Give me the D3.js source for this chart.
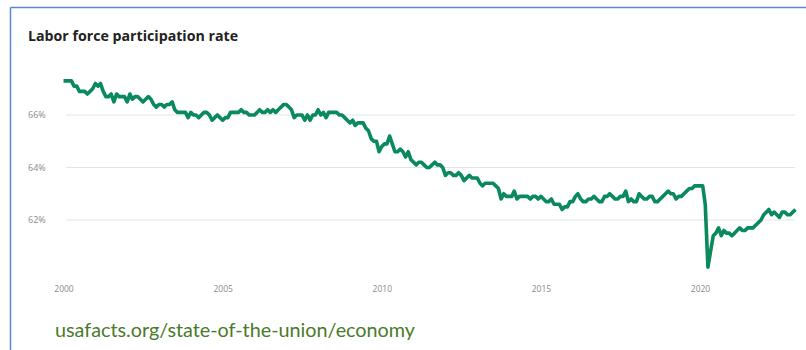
<!DOCTYPE html>
<html>
<head>
<meta charset="utf-8">
<script src="https://cdn.jsdelivr.net/npm/d3@7"></script>
<style>
  html, body { margin: 0; padding: 0; background: #fff; }
  svg { display: block; }
</style>
</head>
<body>
<svg id="chart" width="806" height="350"></svg>
<script>
// Labor force participation rate, monthly, seasonally adjusted (%), Jan 2000 – Jan 2023
const startYear = 2000;
const rates2000 = [67.3, 67.3, 67.3, 67.3, 67.1, 67.1, 66.9, 66.9, 66.9, 66.8, 66.9, 67.0];
const rates2001 = [67.2, 67.1, 67.2, 66.9, 66.7, 66.7, 66.8, 66.5, 66.8, 66.7, 66.7, 66.7];
const rates2002 = [66.5, 66.8, 66.6, 66.7, 66.7, 66.6, 66.5, 66.6, 66.7, 66.6, 66.4, 66.3];
const rates2003 = [66.4, 66.4, 66.3, 66.4, 66.4, 66.5, 66.2, 66.1, 66.1, 66.1, 66.1, 65.9];
const rates2004 = [66.1, 66.0, 66.0, 65.9, 66.0, 66.1, 66.1, 66.0, 65.8, 65.9, 66.0, 65.9];
const rates2005 = [65.8, 65.9, 65.9, 66.1, 66.1, 66.1, 66.1, 66.2, 66.1, 66.1, 66.0, 66.0];
const rates2006 = [66.0, 66.1, 66.2, 66.1, 66.1, 66.2, 66.1, 66.2, 66.1, 66.2, 66.3, 66.4];
const rates2007 = [66.4, 66.3, 66.2, 65.9, 66.0, 66.0, 66.0, 65.8, 66.0, 65.8, 66.0, 66.0];
const rates2008 = [66.2, 66.0, 66.1, 65.9, 66.1, 66.1, 66.1, 66.1, 66.0, 66.0, 65.9, 65.8];
const rates2009 = [65.7, 65.8, 65.6, 65.7, 65.7, 65.7, 65.5, 65.4, 65.1, 65.0, 65.0, 64.6];
const rates2010 = [64.8, 64.9, 64.9, 65.2, 64.9, 64.6, 64.6, 64.7, 64.6, 64.4, 64.6, 64.3];
const rates2011 = [64.2, 64.1, 64.2, 64.2, 64.1, 64.0, 64.0, 64.1, 64.2, 64.1, 64.1, 64.0];
const rates2012 = [63.7, 63.8, 63.8, 63.7, 63.7, 63.8, 63.7, 63.5, 63.6, 63.7, 63.6, 63.6];
const rates2013 = [63.6, 63.4, 63.3, 63.4, 63.4, 63.4, 63.4, 63.3, 63.2, 62.8, 63.0, 62.9];
const rates2014 = [62.9, 62.9, 63.1, 62.8, 62.9, 62.9, 62.9, 62.9, 62.8, 62.9, 62.9, 62.8];
const rates2015 = [62.9, 62.8, 62.7, 62.7, 62.8, 62.6, 62.6, 62.6, 62.4, 62.5, 62.5, 62.7];
const rates2016 = [62.7, 62.9, 63.0, 62.8, 62.7, 62.7, 62.8, 62.8, 62.9, 62.8, 62.7, 62.7];
const rates2017 = [62.9, 62.9, 63.0, 62.9, 62.8, 62.8, 62.9, 62.9, 63.1, 62.7, 62.8, 62.7];
const rates2018 = [62.7, 63.0, 62.9, 62.8, 62.8, 62.9, 62.9, 62.7, 62.7, 62.8, 62.9, 63.0];
const rates2019 = [63.1, 63.0, 63.0, 62.8, 62.9, 62.9, 63.0, 63.1, 63.2, 63.2, 63.3, 63.3];
const rates2020 = [63.3, 63.3, 62.6, 60.2, 60.8, 61.4, 61.5, 61.7, 61.4, 61.6, 61.5, 61.5];
const rates2021 = [61.4, 61.5, 61.6, 61.7, 61.6, 61.6, 61.7, 61.7, 61.7, 61.8, 61.9, 62.0];
const rates2022 = [62.2, 62.3, 62.4, 62.2, 62.3, 62.2, 62.1, 62.3, 62.3, 62.2, 62.2, 62.3];
const rates2023 = [62.4];

const yearlyRates = [rates2000, rates2001, rates2002, rates2003, rates2004, rates2005,
  rates2006, rates2007, rates2008, rates2009, rates2010, rates2011, rates2012, rates2013,
  rates2014, rates2015, rates2016, rates2017, rates2018, rates2019, rates2020, rates2021,
  rates2022, rates2023];

const yTicks = [62, 64, 66];
const xTickYears = [2000, 2005, 2010, 2015, 2020];

const title = "Labor force participation rate";
const sourceText = "usafacts.org/state-of-the-union/economy";

// Flatten into monthly points
const series = [];
yearlyRates.forEach((vals, i) => {
  vals.forEach((v, m) => series.push({ date: new Date(startYear + i, m, 1), value: v }));
});

const svg = d3.select("#chart");

const x = d3.scaleTime()
  .domain([new Date(2000, 0, 1), new Date(2023, 0, 1)])
  .range([63.5, 795.5]);

const y = d3.scaleLinear()
  .domain([60, 68])
  .range([272.5, 62.5]);

// Slide frame (top and left edges)
svg.append("line")
  .attr("x1", 10.5).attr("x2", 806).attr("y1", 7.5).attr("y2", 7.5)
  .attr("stroke", "#5b86d0").attr("stroke-width", 1.5);
svg.append("line")
  .attr("x1", 10.5).attr("x2", 10.5).attr("y1", 7.5).attr("y2", 350)
  .attr("stroke", "#5b86d0").attr("stroke-width", 1.5);

// Title
svg.append("text")
  .attr("x", 28).attr("y", 41)
  .attr("font-family", "'Open Sans', sans-serif")
  .attr("font-weight", 700)
  .attr("font-size", 14.2)
  .attr("fill", "#222")
  .text(title);

// Horizontal gridlines
svg.append("g")
  .selectAll("line")
  .data(yTicks)
  .join("line")
  .attr("x1", 66).attr("x2", 795)
  .attr("y1", d => y(d)).attr("y2", d => y(d))
  .attr("stroke", "#e4e4e4").attr("stroke-width", 1);

// Y-axis labels
const yAxis = d3.axisLeft(y)
  .tickValues(yTicks)
  .tickSize(0)
  .tickFormat(d => d + "%");
const gy = svg.append("g").attr("transform", "translate(28,0)").call(yAxis);
gy.select(".domain").remove();
gy.selectAll("text")
  .attr("x", 0)
  .attr("text-anchor", "start")
  .attr("font-family", "'Open Sans', sans-serif")
  .attr("font-size", 9)
  .attr("fill", "#8a8a8a");

// X-axis labels
const xAxis = d3.axisBottom(x)
  .tickValues(xTickYears.map(yr => new Date(yr, 0, 1)))
  .tickSize(0)
  .tickFormat(d3.timeFormat("%Y"));
const gx = svg.append("g").attr("transform", "translate(0,283)").call(xAxis);
gx.select(".domain").remove();
gx.selectAll("text")
  .attr("font-family", "'Open Sans', sans-serif")
  .attr("font-size", 8.5)
  .attr("fill", "#8a8a8a");

// Rate line
const line = d3.line()
  .x(d => x(d.date))
  .y(d => y(d.value));

svg.append("path")
  .datum(series)
  .attr("d", line)
  .attr("fill", "none")
  .attr("stroke", "#0a8a5c")
  .attr("stroke-width", 3.6)
  .attr("stroke-linejoin", "round")
  .attr("stroke-linecap", "butt");

// Source link
svg.append("text")
  .attr("x", 55).attr("y", 337)
  .attr("font-family", "Lato, 'Open Sans', sans-serif")
  .attr("font-size", 19.8)
  .attr("fill", "#4a7a2a")
  .text(sourceText);
</script>
</body>
</html>
